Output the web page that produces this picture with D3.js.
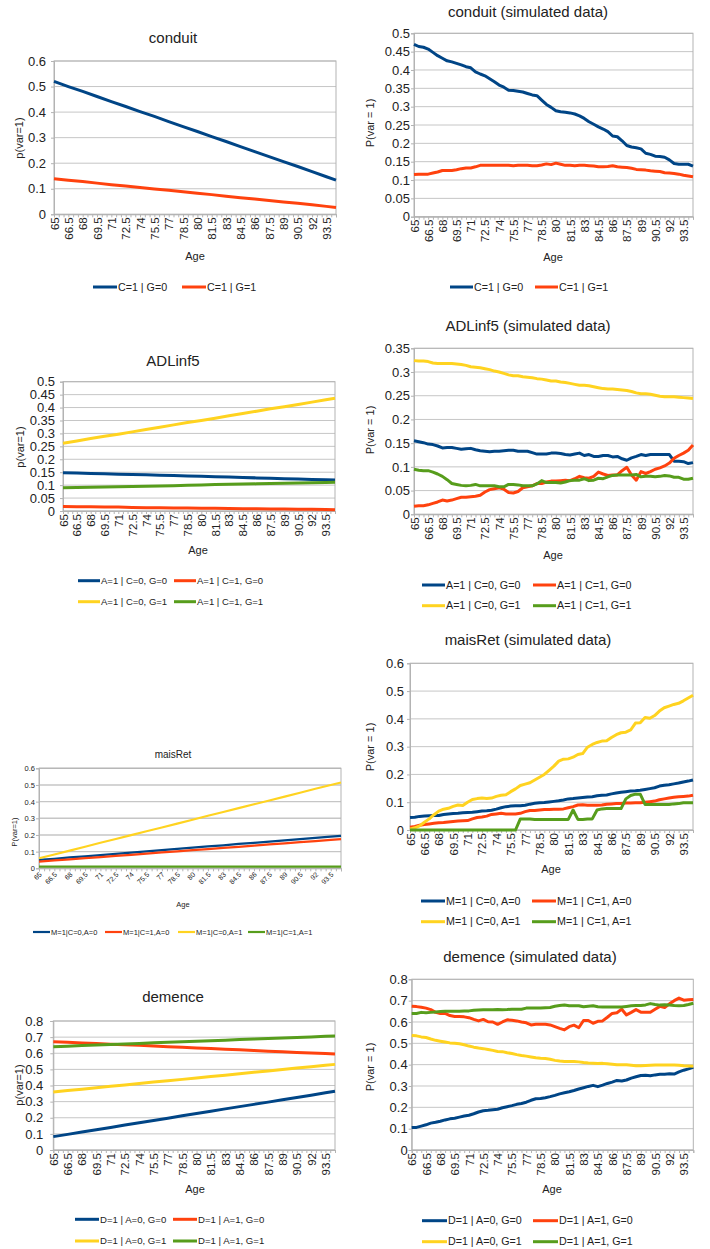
<!DOCTYPE html>
<html>
<head>
<meta charset="utf-8">
<script src="https://cdn.jsdelivr.net/npm/d3@7"></script>
<style>
  html, body { margin: 0; padding: 0; background: #fff; }
  svg { display: block; }
</style>
</head>
<body>
<script>
// ---------- categories ----------
const ageSim = [65,65.5,66,66.5,67,67.5,68,68.5,69,69.5,
  70,70.5,71,71.5,72,72.5,73,73.5,74,74.5,
  75,75.5,76,76.5,77,77.5,78,78.5,79,79.5,
  80,80.5,81,81.5,82,82.5,83,83.5,84,84.5,
  85,85.5,86,86.5,87,87.5,88,88.5,89,89.5,
  90,90.5,91,91.5,92,92.5,93,93.5,94,94.5];
const ageModel = [65,66.5,68,69.5,71,72.5,74,75.5,77,78.5,80,81.5,83,84.5,86,87.5,89,90.5,92,93.5,94.5];
const xTickAges = [65,66.5,68,69.5,71,72.5,74,75.5,77,78.5,80,81.5,83,84.5,86,87.5,89,90.5,92,93.5];
const xTickLabels = ["65","66.5","68","69.5","71","72.5","74","75.5","77","78.5","80","81.5","83","84.5","86","87.5","89","90.5","92","93.5"];
const yTicksTenth6 = [0,0.1,0.2,0.3,0.4,0.5,0.6];
const yTicksTenth8 = [0,0.1,0.2,0.3,0.4,0.5,0.6,0.7,0.8];
const yTicksHalf50 = [0,0.05,0.1,0.15,0.2,0.25,0.3,0.35,0.4,0.45,0.5];
const yTicksHalf35 = [0,0.05,0.1,0.15,0.2,0.25,0.3,0.35];

// ---------- conduit (model) ----------
const conduitC1G0 = [0.520,0.500,0.481,0.461,0.441,0.422,0.402,0.383,0.363,0.343,0.324,0.304,0.285,0.265,0.245,0.226,0.206,0.187,0.167,0.147,0.134];
const conduitC1G1 = [0.139,0.133,0.128,0.122,0.116,0.111,0.105,0.099,0.094,0.088,0.082,0.077,0.071,0.065,0.060,0.054,0.048,0.043,0.037,0.031,0.027];

// ---------- conduit (simulated) ----------
const conduitSimC1G0 = [0.470,0.464,0.462,0.457,0.448,0.439,0.432,0.425,0.422,0.418,
  0.414,0.409,0.406,0.395,0.389,0.384,0.376,0.368,0.359,0.353,
  0.345,0.344,0.342,0.340,0.336,0.332,0.330,0.318,0.306,0.298,
  0.289,0.286,0.285,0.283,0.280,0.275,0.268,0.259,0.252,0.245,
  0.239,0.232,0.220,0.218,0.207,0.194,0.190,0.188,0.185,0.173,
  0.170,0.165,0.164,0.162,0.155,0.145,0.143,0.143,0.143,0.138];
const conduitSimC1G1 = [0.115,0.116,0.116,0.116,0.119,0.122,0.126,0.126,0.126,0.128,
  0.131,0.133,0.133,0.136,0.140,0.140,0.140,0.140,0.140,0.140,
  0.140,0.139,0.140,0.140,0.140,0.139,0.139,0.141,0.144,0.142,
  0.146,0.143,0.140,0.140,0.139,0.140,0.140,0.139,0.138,0.136,
  0.136,0.137,0.139,0.136,0.135,0.134,0.132,0.129,0.128,0.127,
  0.125,0.124,0.123,0.120,0.119,0.118,0.116,0.113,0.111,0.109];

// ---------- ADLinf5 (model) ----------
const adlC0G0 = [0.148,0.147,0.145,0.144,0.142,0.141,0.140,0.138,0.137,0.135,0.134,0.132,0.131,0.130,0.128,0.127,0.125,0.124,0.122,0.121,0.120];
const adlC1G0 = [0.017,0.016,0.016,0.015,0.015,0.014,0.013,0.013,0.012,0.012,0.011,0.011,0.010,0.009,0.009,0.008,0.008,0.007,0.007,0.006,0.005];
const adlC0G1 = [0.262,0.271,0.280,0.289,0.297,0.306,0.315,0.324,0.333,0.342,0.350,0.359,0.368,0.377,0.386,0.395,0.403,0.412,0.421,0.430,0.436];
const adlC1G1 = [0.090,0.091,0.092,0.093,0.094,0.095,0.096,0.097,0.098,0.100,0.101,0.102,0.103,0.104,0.105,0.106,0.107,0.108,0.109,0.110,0.111];

// ---------- ADLinf5 (simulated) ----------
const adlSimC0G0 = [0.155,0.153,0.151,0.148,0.147,0.144,0.140,0.141,0.141,0.139,
  0.137,0.138,0.139,0.136,0.134,0.133,0.132,0.133,0.133,0.134,
  0.135,0.135,0.133,0.133,0.133,0.130,0.127,0.127,0.127,0.129,
  0.129,0.128,0.126,0.125,0.127,0.129,0.124,0.126,0.122,0.122,
  0.124,0.124,0.121,0.122,0.117,0.114,0.119,0.122,0.126,0.124,
  0.126,0.126,0.126,0.126,0.126,0.112,0.112,0.111,0.107,0.109];
const adlSimC1G0 = [0.017,0.018,0.018,0.020,0.023,0.026,0.030,0.028,0.030,0.033,
  0.036,0.036,0.037,0.038,0.040,0.047,0.052,0.054,0.056,0.053,
  0.046,0.045,0.048,0.056,0.058,0.060,0.065,0.065,0.068,0.070,
  0.070,0.071,0.072,0.071,0.075,0.080,0.077,0.076,0.080,0.089,
  0.085,0.082,0.083,0.083,0.092,0.099,0.083,0.072,0.090,0.086,
  0.090,0.095,0.098,0.102,0.108,0.118,0.124,0.129,0.135,0.146];
const adlSimC0G1 = [0.324,0.323,0.323,0.322,0.319,0.318,0.318,0.318,0.318,0.317,
  0.316,0.314,0.311,0.310,0.309,0.307,0.305,0.302,0.300,0.297,
  0.294,0.292,0.292,0.290,0.289,0.288,0.286,0.285,0.283,0.281,
  0.281,0.279,0.278,0.276,0.274,0.272,0.272,0.271,0.269,0.267,
  0.265,0.264,0.264,0.263,0.262,0.261,0.259,0.256,0.254,0.254,
  0.253,0.251,0.249,0.248,0.248,0.248,0.247,0.246,0.245,0.244];
const adlSimC1G1 = [0.095,0.093,0.092,0.092,0.089,0.085,0.080,0.073,0.065,0.063,
  0.061,0.060,0.061,0.063,0.060,0.060,0.060,0.060,0.058,0.058,
  0.063,0.063,0.062,0.060,0.060,0.060,0.064,0.071,0.067,0.067,
  0.067,0.066,0.068,0.071,0.072,0.072,0.075,0.071,0.072,0.076,
  0.075,0.079,0.082,0.083,0.083,0.083,0.083,0.084,0.079,0.080,
  0.080,0.079,0.080,0.082,0.081,0.078,0.078,0.074,0.074,0.076];

// ---------- maisRet (model) ----------
const maisC0A0 = [0.050,0.057,0.065,0.072,0.079,0.087,0.094,0.101,0.109,0.116,0.124,0.131,0.138,0.146,0.153,0.160,0.168,0.175,0.182,0.190,0.195];
const maisC1A0 = [0.040,0.047,0.054,0.061,0.067,0.074,0.081,0.088,0.095,0.102,0.109,0.115,0.122,0.129,0.136,0.143,0.150,0.157,0.163,0.170,0.175];
const maisC0A1 = [0.060,0.083,0.106,0.129,0.153,0.176,0.199,0.222,0.245,0.268,0.291,0.315,0.338,0.361,0.384,0.407,0.430,0.453,0.477,0.500,0.515];
const maisC1A1 = [0.010,0.010,0.010,0.010,0.010,0.010,0.010,0.010,0.010,0.010,0.010,0.010,0.010,0.010,0.010,0.010,0.010,0.010,0.010,0.010,0.010];

// ---------- maisRet (simulated) ----------
const maisSimC0A0 = [0.045,0.046,0.049,0.050,0.051,0.052,0.052,0.056,0.058,0.059,
  0.060,0.062,0.063,0.064,0.066,0.068,0.069,0.071,0.075,0.080,
  0.084,0.086,0.087,0.087,0.089,0.093,0.096,0.098,0.099,0.101,
  0.103,0.105,0.108,0.112,0.113,0.115,0.117,0.119,0.120,0.123,
  0.125,0.126,0.130,0.133,0.136,0.138,0.140,0.141,0.143,0.146,
  0.149,0.152,0.158,0.161,0.163,0.166,0.169,0.173,0.176,0.180];
const maisSimC1A0 = [0.010,0.013,0.017,0.020,0.022,0.024,0.026,0.027,0.029,0.031,
  0.032,0.033,0.034,0.040,0.045,0.047,0.050,0.056,0.058,0.060,
  0.058,0.058,0.058,0.060,0.066,0.070,0.070,0.072,0.074,0.074,
  0.075,0.075,0.076,0.080,0.084,0.090,0.091,0.089,0.089,0.089,
  0.090,0.093,0.094,0.095,0.095,0.097,0.097,0.098,0.098,0.100,
  0.102,0.104,0.109,0.112,0.115,0.118,0.120,0.121,0.122,0.125];
const maisSimC0A1 = [0.003,0.008,0.015,0.028,0.040,0.055,0.068,0.075,0.078,0.085,
  0.090,0.088,0.100,0.110,0.113,0.115,0.113,0.115,0.121,0.125,
  0.127,0.138,0.148,0.160,0.165,0.170,0.180,0.190,0.200,0.215,
  0.230,0.248,0.255,0.256,0.262,0.272,0.275,0.298,0.308,0.315,
  0.320,0.321,0.333,0.343,0.350,0.352,0.360,0.385,0.386,0.405,
  0.402,0.412,0.428,0.440,0.446,0.452,0.456,0.465,0.475,0.485];
const maisSimC1A1 = [0,0,0,0,0,0,0,0,0,0,
  0,0,0,0,0,0,0,0,0,0,
  0,0,0,0.040,0.040,0.040,0.038,0.038,0.038,0.038,
  0.038,0.038,0.038,0.038,0.072,0.038,0.038,0.040,0.040,0.072,
  0.076,0.077,0.077,0.077,0.077,0.112,0.124,0.129,0.129,0.092,
  0.092,0.092,0.092,0.092,0.092,0.094,0.095,0.098,0.098,0.098];

// ---------- demence (model) ----------
const demA0G0 = [0.083,0.097,0.112,0.126,0.140,0.155,0.169,0.183,0.197,0.212,0.226,0.240,0.255,0.269,0.283,0.297,0.312,0.326,0.340,0.355,0.364];
const demA1G0 = [0.672,0.668,0.664,0.660,0.656,0.652,0.649,0.645,0.641,0.637,0.633,0.629,0.625,0.621,0.617,0.613,0.609,0.605,0.601,0.598,0.595];
const demA0G1 = [0.360,0.369,0.377,0.386,0.395,0.403,0.412,0.421,0.430,0.438,0.447,0.456,0.464,0.473,0.482,0.490,0.499,0.508,0.517,0.525,0.531];
const demA1G1 = [0.641,0.644,0.648,0.651,0.654,0.658,0.661,0.665,0.668,0.671,0.675,0.678,0.681,0.685,0.688,0.691,0.695,0.698,0.701,0.705,0.707];

// ---------- demence (simulated) ----------
const demSimA0G0 = [0.105,0.106,0.112,0.118,0.126,0.130,0.135,0.141,0.146,0.149,
  0.154,0.159,0.163,0.170,0.178,0.184,0.186,0.189,0.191,0.198,
  0.203,0.208,0.214,0.218,0.224,0.233,0.240,0.241,0.245,0.250,
  0.256,0.263,0.268,0.273,0.279,0.286,0.292,0.298,0.303,0.297,
  0.304,0.312,0.318,0.326,0.323,0.328,0.337,0.343,0.349,0.350,
  0.348,0.352,0.355,0.355,0.357,0.356,0.366,0.374,0.380,0.387];
const demSimA1G0 = [0.674,0.672,0.669,0.665,0.658,0.645,0.640,0.640,0.630,0.626,
  0.626,0.624,0.620,0.612,0.605,0.612,0.601,0.600,0.589,0.600,
  0.610,0.608,0.605,0.600,0.596,0.586,0.589,0.589,0.589,0.586,
  0.578,0.570,0.563,0.578,0.585,0.573,0.607,0.607,0.594,0.603,
  0.605,0.622,0.640,0.643,0.660,0.633,0.645,0.658,0.646,0.645,
  0.646,0.660,0.673,0.668,0.685,0.700,0.712,0.702,0.704,0.705];
const demSimA0G1 = [0.537,0.535,0.530,0.527,0.520,0.514,0.510,0.506,0.502,0.500,
  0.498,0.493,0.487,0.482,0.478,0.475,0.471,0.467,0.462,0.461,
  0.456,0.452,0.447,0.443,0.440,0.436,0.432,0.430,0.429,0.425,
  0.420,0.417,0.415,0.415,0.415,0.413,0.410,0.408,0.407,0.405,
  0.406,0.404,0.402,0.400,0.399,0.399,0.397,0.395,0.395,0.396,
  0.397,0.398,0.398,0.398,0.398,0.398,0.397,0.395,0.394,0.393];
const demSimA1G1 = [0.640,0.640,0.645,0.643,0.645,0.647,0.649,0.650,0.650,0.650,
  0.650,0.651,0.652,0.655,0.656,0.657,0.657,0.657,0.659,0.657,
  0.658,0.660,0.660,0.660,0.665,0.666,0.666,0.665,0.667,0.668,
  0.674,0.677,0.680,0.676,0.676,0.676,0.671,0.674,0.676,0.671,
  0.670,0.670,0.670,0.670,0.670,0.673,0.676,0.677,0.677,0.680,
  0.686,0.682,0.679,0.681,0.680,0.677,0.676,0.677,0.682,0.688];

// ---------- styling ----------
const FONT = '"Liberation Sans", Arial, sans-serif';
const BLUE = "#004586", RED = "#ff420e", YELLOW = "#ffd320", GREEN = "#579d1c";
const GRID = "#c6c6c6", AXIS = "#b3b3b3", TEXT = "#222";
const fmt = d => String(+d.toFixed(2));

const svg = d3.select("body").append("svg")
  .attr("width", 710).attr("height", 1249)
  .style("background", "#fff");

function drawPanel(p) {
  const g = svg.append("g");
  const x = d3.scaleLinear().domain([65, 94.5]).range([p.plot.l, p.plot.r]);
  const y = d3.scaleLinear().domain([0, p.yMax]).range([p.plot.b, p.plot.t]);

  // title
  g.append("text").text(p.title)
    .attr("x", p.titleX).attr("y", p.titleY)
    .attr("text-anchor", "middle")
    .attr("font-family", FONT).attr("font-size", p.titleSize).attr("fill", TEXT);

  // horizontal gridlines
  g.append("g").selectAll("line").data(p.yTicks).join("line")
    .attr("x1", p.plot.l).attr("x2", p.plot.r)
    .attr("y1", d => y(d)).attr("y2", d => y(d))
    .attr("stroke", GRID).attr("stroke-width", p.gridW || 1);

  // plot frame
  g.append("rect")
    .attr("x", p.plot.l).attr("y", p.plot.t)
    .attr("width", p.plot.r - p.plot.l).attr("height", p.plot.b - p.plot.t)
    .attr("fill", "none").attr("stroke", AXIS).attr("stroke-width", 1);

  // y axis
  const ya = g.append("g").attr("transform", `translate(${p.plot.l},0)`)
    .call(d3.axisLeft(y).tickValues(p.yTicks).tickFormat(fmt).tickSize(3).tickPadding(p.yPad));
  ya.select(".domain").attr("stroke", AXIS);
  ya.selectAll(".tick line").attr("stroke", AXIS);
  ya.selectAll("text").attr("font-family", FONT).attr("font-size", p.tickFont).attr("fill", TEXT);

  // x axis: a tick at every category
  const xm = g.append("g").attr("transform", `translate(0,${p.plot.b})`)
    .call(d3.axisBottom(x).tickValues(ageSim).tickSize(3).tickFormat(""));
  xm.select(".domain").attr("stroke", AXIS);
  xm.selectAll(".tick line").attr("stroke", AXIS);

  // x axis labels every third category
  const xa = g.append("g").attr("transform", `translate(0,${p.plot.b})`)
    .call(d3.axisBottom(x).tickValues(xTickAges).tickSize(0).tickFormat((d, i) => xTickLabels[i]));
  xa.select(".domain").remove();
  const xt = xa.selectAll("text")
    .attr("font-family", FONT).attr("font-size", p.xFont).attr("fill", TEXT)
    .style("text-anchor", "end");
  if (p.xRot === -90) {
    xt.attr("x", -p.xPad).attr("y", 0).attr("dy", "0.35em").attr("transform", "rotate(-90)");
  } else {
    xt.attr("x", 0).attr("y", 0).attr("dy", "0.35em")
      .attr("transform", `translate(1,${p.xPad}) rotate(-45)`);
  }

  // axis titles
  g.append("text").text(p.yTitle)
    .attr("transform", `translate(${p.yTitleX},${p.yTitleY}) rotate(-90)`)
    .attr("text-anchor", "middle").attr("dy", "0.35em")
    .attr("font-family", FONT).attr("font-size", p.axTitleFont).attr("fill", TEXT);
  g.append("text").text("Age")
    .attr("x", p.ageX).attr("y", p.ageY).attr("text-anchor", "middle")
    .attr("font-family", FONT).attr("font-size", p.axTitleFont).attr("fill", TEXT);

  // series
  const line = d3.line().x(d => x(d.age)).y(d => y(d.v));
  p.series.forEach(s => {
    const pts = s.values.map((v, i) => ({ age: p.ages[i], v }));
    g.append("path").datum(pts).attr("d", line)
      .attr("fill", "none").attr("stroke", s.color).attr("stroke-width", p.lineW)
      .attr("stroke-linejoin", "round").attr("stroke-linecap", "butt");
  });

  // legend
  p.series.forEach((s, i) => {
    const pos = p.legend[i];
    g.append("line")
      .attr("x1", pos.x).attr("x2", pos.x + p.legendLen)
      .attr("y1", pos.y).attr("y2", pos.y)
      .attr("stroke", s.color).attr("stroke-width", p.lineW);
    g.append("text").text(s.label)
      .attr("x", pos.x + p.legendLen + 1).attr("y", pos.y).attr("dy", "0.35em")
      .attr("font-family", FONT).attr("font-size", p.legendFont).attr("fill", TEXT);
  });
}

const panels = [
  { title: "conduit", titleX: 173, titleY: 43, titleSize: 15,
    plot: { l: 54, t: 61, r: 336, b: 214.3 }, yMax: 0.6, yTicks: yTicksTenth6, yPad: 5,
    tickFont: 13, xFont: 11.5, xRot: -90, xPad: 3,
    yTitle: "p(var=1)", yTitleX: 19, yTitleY: 138, axTitleFont: 11, ageX: 195, ageY: 260,
    ages: ageModel, lineW: 3, legendLen: 24, legendFont: 10.7,
    series: [
      { values: conduitC1G0, color: BLUE, label: "C=1 | G=0" },
      { values: conduitC1G1, color: RED, label: "C=1 | G=1" }],
    legend: [{ x: 93, y: 287 }, { x: 182, y: 287 }] },

  { title: "conduit (simulated data)", titleX: 528, titleY: 17, titleSize: 15,
    plot: { l: 414, t: 33.3, r: 693, b: 216.7 }, yMax: 0.5, yTicks: yTicksHalf50, yPad: 1,
    tickFont: 13, xFont: 11.5, xRot: -90, xPad: 3,
    yTitle: "P(var = 1)", yTitleX: 370, yTitleY: 123, axTitleFont: 11, ageX: 553, ageY: 261,
    ages: ageSim, lineW: 3, legendLen: 23, legendFont: 10.7,
    series: [
      { values: conduitSimC1G0, color: BLUE, label: "C=1 | G=0" },
      { values: conduitSimC1G1, color: RED, label: "C=1 | G=1" }],
    legend: [{ x: 450, y: 287 }, { x: 535, y: 287 }] },

  { title: "ADLinf5", titleX: 173, titleY: 366, titleSize: 15,
    plot: { l: 63, t: 381.7, r: 335, b: 511 }, yMax: 0.5, yTicks: yTicksHalf50, yPad: 5,
    tickFont: 13, xFont: 11.5, xRot: -90, xPad: 3,
    yTitle: "p(var=1)", yTitleX: 20, yTitleY: 447, axTitleFont: 11, ageX: 198, ageY: 554,
    ages: ageModel, lineW: 3, legendLen: 22, legendFont: 9.5,
    series: [
      { values: adlC0G0, color: BLUE, label: "A=1 | C=0, G=0" },
      { values: adlC1G0, color: RED, label: "A=1 | C=1, G=0" },
      { values: adlC0G1, color: YELLOW, label: "A=1 | C=0, G=1" },
      { values: adlC1G1, color: GREEN, label: "A=1 | C=1, G=1" }],
    legend: [{ x: 78, y: 580.7 }, { x: 174, y: 580.7 }, { x: 78, y: 601.7 }, { x: 174, y: 601.7 }] },

  { title: "ADLinf5 (simulated data)", titleX: 528, titleY: 331, titleSize: 15,
    plot: { l: 414, t: 348.3, r: 693, b: 514.3 }, yMax: 0.35, yTicks: yTicksHalf35, yPad: 1,
    tickFont: 13, xFont: 11.5, xRot: -90, xPad: 3,
    yTitle: "P(var = 1)", yTitleX: 370, yTitleY: 430, axTitleFont: 11, ageX: 553, ageY: 559,
    ages: ageSim, lineW: 3, legendLen: 23, legendFont: 10.7,
    series: [
      { values: adlSimC0G0, color: BLUE, label: "A=1 | C=0, G=0" },
      { values: adlSimC1G0, color: RED, label: "A=1 | C=1, G=0" },
      { values: adlSimC0G1, color: YELLOW, label: "A=1 | C=0, G=1" },
      { values: adlSimC1G1, color: GREEN, label: "A=1 | C=1, G=1" }],
    legend: [{ x: 422, y: 585 }, { x: 533, y: 585 }, { x: 422, y: 605.7 }, { x: 533, y: 605.7 }] },

  { title: "maisRet", titleX: 173, titleY: 758, titleSize: 10,
    plot: { l: 39, t: 768.3, r: 341, b: 868.3 }, yMax: 0.6, yTicks: yTicksTenth6, yPad: 1,
    tickFont: 7.5, xFont: 7, xRot: -45, xPad: 5, gridW: 1.4,
    yTitle: "P(var=1)", yTitleX: 14, yTitleY: 832, axTitleFont: 7.5, ageX: 183, ageY: 907,
    ages: ageModel, lineW: 2.2, legendLen: 17, legendFont: 7.5,
    series: [
      { values: maisC0A0, color: BLUE, label: "M=1|C=0,A=0" },
      { values: maisC1A0, color: RED, label: "M=1|C=1,A=0" },
      { values: maisC0A1, color: YELLOW, label: "M=1|C=0,A=1" },
      { values: maisC1A1, color: GREEN, label: "M=1|C=1,A=1" }],
    legend: [{ x: 33, y: 932 }, { x: 105, y: 932 }, { x: 178, y: 932 }, { x: 248, y: 932 }] },

  { title: "maisRet (simulated data)", titleX: 528, titleY: 645, titleSize: 15,
    plot: { l: 410, t: 663.3, r: 693, b: 830 }, yMax: 0.6, yTicks: yTicksTenth6, yPad: 3,
    tickFont: 13, xFont: 11.5, xRot: -90, xPad: 3,
    yTitle: "P(var = 1)", yTitleX: 370, yTitleY: 747, axTitleFont: 11, ageX: 551, ageY: 873,
    ages: ageSim, lineW: 3, legendLen: 24, legendFont: 10.7,
    series: [
      { values: maisSimC0A0, color: BLUE, label: "M=1 | C=0, A=0" },
      { values: maisSimC1A0, color: RED, label: "M=1 | C=1, A=0" },
      { values: maisSimC0A1, color: YELLOW, label: "M=1 | C=0, A=1" },
      { values: maisSimC1A1, color: GREEN, label: "M=1 | C=1, A=1" }],
    legend: [{ x: 421, y: 901 }, { x: 532, y: 901 }, { x: 421, y: 921.7 }, { x: 532, y: 921.7 }] },

  { title: "demence", titleX: 173, titleY: 1002, titleSize: 15,
    plot: { l: 53.3, t: 1021, r: 335, b: 1150 }, yMax: 0.8, yTicks: yTicksTenth8, yPad: 7,
    tickFont: 13, xFont: 11.5, xRot: -90, xPad: 3,
    yTitle: "p(var=1)", yTitleX: 19, yTitleY: 1085, axTitleFont: 11, ageX: 195, ageY: 1193,
    ages: ageModel, lineW: 3, legendLen: 24, legendFont: 9.6,
    series: [
      { values: demA0G0, color: BLUE, label: "D=1 | A=0, G=0" },
      { values: demA1G0, color: RED, label: "D=1 | A=1, G=0" },
      { values: demA0G1, color: YELLOW, label: "D=1 | A=0, G=1" },
      { values: demA1G1, color: GREEN, label: "D=1 | A=1, G=1" }],
    legend: [{ x: 75, y: 1219.3 }, { x: 173, y: 1219.3 }, { x: 75, y: 1241 }, { x: 173, y: 1241 }] },

  { title: "demence (simulated data)", titleX: 530, titleY: 962, titleSize: 15,
    plot: { l: 411.7, t: 979.3, r: 693.3, b: 1150 }, yMax: 0.8, yTicks: yTicksTenth8, yPad: 1,
    tickFont: 13, xFont: 11.5, xRot: -90, xPad: 3,
    yTitle: "P(var = 1)", yTitleX: 370, yTitleY: 1067, axTitleFont: 11, ageX: 552, ageY: 1193,
    ages: ageSim, lineW: 3, legendLen: 25, legendFont: 10.7,
    series: [
      { values: demSimA0G0, color: BLUE, label: "D=1 | A=0, G=0" },
      { values: demSimA1G0, color: RED, label: "D=1 | A=1, G=0" },
      { values: demSimA0G1, color: YELLOW, label: "D=1 | A=0, G=1" },
      { values: demSimA1G1, color: GREEN, label: "D=1 | A=1, G=1" }],
    legend: [{ x: 422, y: 1220.7 }, { x: 533, y: 1220.7 }, { x: 422, y: 1241.7 }, { x: 533, y: 1241.7 }] }
];

panels.forEach(drawPanel);
</script>
</body>
</html>
